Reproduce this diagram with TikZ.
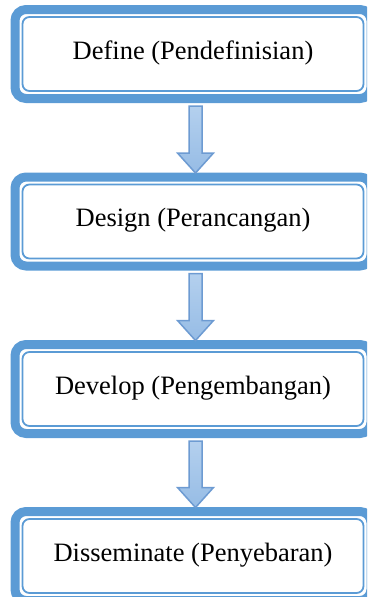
\documentclass[tikz,border=0pt]{standalone}
\usepackage{fontspec}
\setmainfont{Liberation Serif}
\usetikzlibrary{calc}
\definecolor{boxblue}{RGB}{91,155,213}
\definecolor{arrowedge}{RGB}{109,155,210}
\definecolor{arrowtop}{RGB}{180,208,238}
\definecolor{arrowbot}{RGB}{150,188,229}
\tikzset{
  stagebox/.style={draw=boxblue, line width=1.8pt, rounded corners=7pt,
    minimum width=341pt, minimum height=74pt, outer sep=0pt, inner sep=0pt,
    text height=19pt, text depth=9pt, font=\fontsize{26.5}{30}\selectfont},
  stageframe/.style={draw=boxblue, line width=9pt, rounded corners=11pt},
  blockarrow/.style={draw=arrowedge, line width=1.5pt, top color=arrowtop,
    bottom color=arrowbot, line join=miter}
}
\newcommand\drawframe[1]{%
  \draw[stageframe] ($(#1.north west)+(-7.5,-7.5)$) rectangle ($(#1.south east)+(7.5,7.5)$);}
\newcommand\flowarrow[2]{%
  \coordinate (s#1) at ($(#1.south)+(2.5,15)$);
  \coordinate (e#2) at ($(#2.north)+(2.5,-11.5)$);
  \draw[blockarrow] let \p1=(s#1), \p2=(e#2) in
    (\x1-6.5pt,\y1) -- (\x1-6.5pt,\y2+20pt) -- (\x1-18pt,\y2+20pt) -- (\x2,\y2)
    -- (\x1+18pt,\y2+20pt) -- (\x1+6.5pt,\y2+20pt) -- (\x1+6.5pt,\y1) -- cycle;}
\begin{document}
\begin{tikzpicture}[x=1pt,y=-1pt]
  \useasboundingbox (0,0) rectangle (367,597);
  \clip (0,0) rectangle (367,597);
  \node[stagebox] (d1) at (193,54) {Define (Pendefinisian)};
  \node[stagebox] (d2) at (193,221.5) {Design (Perancangan)};
  \node[stagebox] (d3) at (193,389) {Develop (Pengembangan)};
  \node[stagebox] (d4) at (193,556) {Disseminate (Penyebaran)};
  \drawframe{d1}
  \drawframe{d2}
  \drawframe{d3}
  \drawframe{d4}
  \flowarrow{d1}{d2}
  \flowarrow{d2}{d3}
  \flowarrow{d3}{d4}
\end{tikzpicture}
\end{document}
